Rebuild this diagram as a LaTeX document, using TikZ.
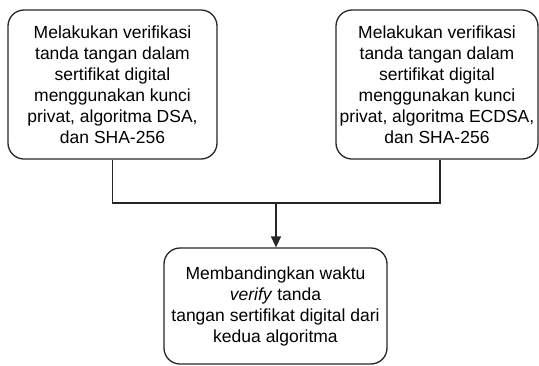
\documentclass[tikz,border=0pt]{standalone}
\usepackage{fontspec}
\setmainfont{Liberation Sans}
\usetikzlibrary{arrows.meta}
\begin{document}
\begin{tikzpicture}[x=1pt,y=-1pt,
  box/.style={draw=black!85, line width=1.3pt, rounded corners=16pt, align=center,
    font=\fontsize{17.5}{21}\selectfont, inner sep=0pt},
  conn/.style={draw=black!85, line width=1.3pt}]
\useasboundingbox (0,0) rectangle (539,365);
\node[box, minimum width=209pt, minimum height=149pt] (L) at (112.5,84.5)
  {Melakukan verifikasi\\tanda tangan dalam\\sertifikat digital\\menggunakan kunci\\privat, algoritma DSA,\\dan SHA-256};
\node[box, minimum width=202pt, minimum height=149pt] (R) at (437,84.5)
  {Melakukan verifikasi\\tanda tangan dalam\\sertifikat digital\\menggunakan kunci\\privat, algoritma ECDSA,\\dan SHA-256};
\node[box, minimum width=223pt, minimum height=116pt] (B) at (275.5,306)
  {Membandingkan waktu\\\textit{verify} tanda\\tangan sertifikat digital dari\\kedua algoritma};
\coordinate (M) at (276,203);
\draw[conn] (L.south) |- (M) -| ([xshift=3pt]R.south);
\draw[conn, -{Triangle[width=10pt,length=11pt]}] (M) -- (M |- B.north);
\end{tikzpicture}
\end{document}
